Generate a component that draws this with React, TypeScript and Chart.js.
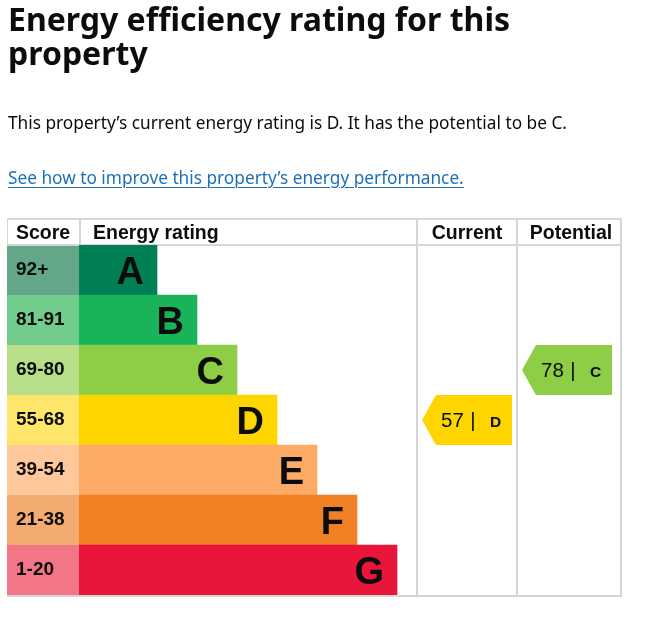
import React, { useEffect, useRef } from "react";
import { Chart, registerables } from "chart.js";

Chart.register(...registerables);

// ---- Data ----
const ratings = ["A", "B", "C", "D", "E", "F", "G"];
const scoreRanges = ["92+", "81-91", "69-80", "55-68", "39-54", "21-38", "1-20"];
const bandMinScores = [92, 81, 69, 55, 39, 21, 1];
const barLengths = [2, 3, 4, 5, 6, 7, 8];
const columnHeaders = ["Score", "Energy rating", "Current", "Potential"];
const currentScore = 57;
const potentialScore = 78;

// ---- Styles ----
const bandColors = ["#008054", "#19b459", "#8dce46", "#ffd500", "#fcaa65", "#ef8023", "#e9153b"];
const scoreCellColors = ["#64a688", "#72cd8d", "#b7df8a", "#ffe569", "#ffc89a", "#f4ab70", "#f27588"];
const TEXT = "#0b0c0c";
const GRID = "#d6d6d6";
const ARIAL = "'Liberation Sans', Arial, sans-serif";

function bandIndex(score: number) {
  for (let i = 0; i < bandMinScores.length; i++) if (score >= bandMinScores[i]) return i;
  return bandMinScores.length - 1;
}

const TABLE_LEFT = 7;
const TABLE_TOP = 219;
const CURRENT_W = 100;
const POTENTIAL_W = 104;

const epcPlugin = {
  id: "epcTable",
  beforeDatasetsDraw(chart: any) {
    const { ctx, chartArea: ca, scales } = chart;
    const y = scales.y;
    const rowH = y.getPixelForValue(1) - y.getPixelForValue(0);
    const tableRight = ca.right + CURRENT_W + POTENTIAL_W;
    ctx.save();
    // score cells
    ratings.forEach((_, i) => {
      const cy = y.getPixelForValue(i);
      ctx.fillStyle = scoreCellColors[i];
      ctx.fillRect(TABLE_LEFT, cy - rowH / 2, ca.left - TABLE_LEFT, rowH);
    });
    // grid
    ctx.strokeStyle = GRID;
    ctx.lineWidth = 2;
    const line = (x1: number, y1: number, x2: number, y2: number) => {
      ctx.beginPath();
      ctx.moveTo(x1, y1);
      ctx.lineTo(x2, y2);
      ctx.stroke();
    };
    line(TABLE_LEFT, TABLE_TOP, tableRight + 1, TABLE_TOP);
    line(TABLE_LEFT, ca.top, tableRight + 1, ca.top);
    line(TABLE_LEFT, ca.bottom + 1, tableRight + 1, ca.bottom + 1);
    line(ca.left + 1, TABLE_TOP, ca.left + 1, ca.top);
    line(ca.right, TABLE_TOP, ca.right, ca.bottom + 1);
    line(ca.right + CURRENT_W, TABLE_TOP, ca.right + CURRENT_W, ca.bottom + 1);
    line(tableRight, TABLE_TOP, tableRight, ca.bottom + 1);
    ctx.lineWidth = 1;
    line(TABLE_LEFT + 0.5, TABLE_TOP, TABLE_LEFT + 0.5, ca.top);
    // headers
    ctx.fillStyle = TEXT;
    ctx.font = `bold 19.5px ${ARIAL}`;
    ctx.textBaseline = "alphabetic";
    const hy = ca.top - 6;
    ctx.textAlign = "center";
    ctx.fillText(columnHeaders[0], (TABLE_LEFT + ca.left) / 2, hy);
    ctx.textAlign = "left";
    ctx.fillText(columnHeaders[1], ca.left + 14, hy);
    ctx.textAlign = "center";
    ctx.fillText(columnHeaders[2], ca.right + CURRENT_W / 2, hy);
    ctx.fillText(columnHeaders[3], ca.right + CURRENT_W + POTENTIAL_W / 2 + 2, hy);
    ctx.restore();
  },
  afterDatasetsDraw(chart: any) {
    const { ctx, scales } = chart;
    const ca = chart.chartArea;
    const y = scales.y;
    const rowH = y.getPixelForValue(1) - y.getPixelForValue(0);
    const meta = chart.getDatasetMeta(0);
    ctx.save();
    ctx.fillStyle = TEXT;
    ctx.textBaseline = "alphabetic";
    ratings.forEach((r, i) => {
      const top = y.getPixelForValue(i) - rowH / 2;
      // score range
      ctx.font = `bold 19px ${ARIAL}`;
      ctx.textAlign = "left";
      ctx.fillText(scoreRanges[i], TABLE_LEFT + 9, top + 30);
      // band letter
      ctx.font = `bold 38px ${ARIAL}`;
      ctx.textAlign = "right";
      ctx.fillText(r, meta.data[i].x - 13, top + 39);
    });
    const drawArrow = (score: number, colLeft: number) => {
      const i = bandIndex(score);
      const cy = y.getPixelForValue(i);
      const top = cy - rowH / 2;
      const left = colLeft + 5;
      const right = left + 90;
      const tip = 14;
      ctx.fillStyle = bandColors[i];
      ctx.beginPath();
      ctx.moveTo(left, cy);
      ctx.lineTo(left + tip, top);
      ctx.lineTo(right, top);
      ctx.lineTo(right, top + rowH);
      ctx.lineTo(left + tip, top + rowH);
      ctx.closePath();
      ctx.fill();
      ctx.fillStyle = TEXT;
      const by = top + 32;
      ctx.font = `20.5px ${ARIAL}`;
      ctx.textAlign = "left";
      ctx.fillText(String(score), left + 19, by);
      ctx.textAlign = "center";
      ctx.fillText("|", left + 51, by);
      ctx.font = `bold 15.5px ${ARIAL}`;
      ctx.textAlign = "left";
      ctx.fillText(ratings[i], left + 68, by);
    };
    drawArrow(currentScore, ca.right);
    drawArrow(potentialScore, ca.right + CURRENT_W);
    ctx.restore();
  },
};

export default function App() {
  const ref = useRef<HTMLCanvasElement>(null);
  useEffect(() => {
    if (!ref.current) return;
    const chart = new Chart(ref.current, {
      type: "bar",
      data: {
        labels: ratings,
        datasets: [
          {
            data: barLengths,
            backgroundColor: bandColors,
            borderWidth: 0,
            barPercentage: 1,
            categoryPercentage: 1,
          },
        ],
      },
      options: {
        indexAxis: "y",
        animation: false,
        responsive: false,
        devicePixelRatio: 1,
        layout: { padding: { left: 79, top: 245, right: 238, bottom: 33 } },
        scales: {
          x: { display: false, min: 0.05, max: 8.5 },
          y: { display: false },
        },
        plugins: { legend: { display: false }, tooltip: { enabled: false } },
      },
      plugins: [epcPlugin],
    } as any);
    return () => chart.destroy();
  }, []);

  return (
    <div style={{ position: "absolute", left: 0, top: 0, width: 655, height: 628, overflow: "hidden", background: "#fff" }}>
      <canvas ref={ref} width={655} height={628} style={{ position: "absolute", left: 0, top: 0, width: 655, height: 628 }} />
      <div
        style={{
          position: "absolute",
          left: 8,
          top: 1.6,
          font: "700 32px/34px 'Noto Sans', sans-serif",
          color: TEXT,
          whiteSpace: "nowrap",
        }}
      >
        Energy efficiency rating for this
        <br />
        property
      </div>
      <div
        style={{
          position: "absolute",
          left: 8,
          top: 112.8,
          font: "400 17.25px/20px 'Noto Sans', sans-serif",
          color: TEXT,
          whiteSpace: "nowrap",
        }}
      >
        This property’s current energy rating is D. It has the potential to be C.
      </div>
      <div
        style={{
          position: "absolute",
          left: 8,
          top: 167.5,
          font: "400 17.25px/20px 'Noto Sans', sans-serif",
          whiteSpace: "nowrap",
        }}
      >
        <a
          href="#"
          style={{ color: "#1d70b8", textDecoration: "underline", textDecorationThickness: 1, textUnderlineOffset: 3 }}
        >
          See how to improve this property’s energy performance.
        </a>
      </div>
    </div>
  );
}
